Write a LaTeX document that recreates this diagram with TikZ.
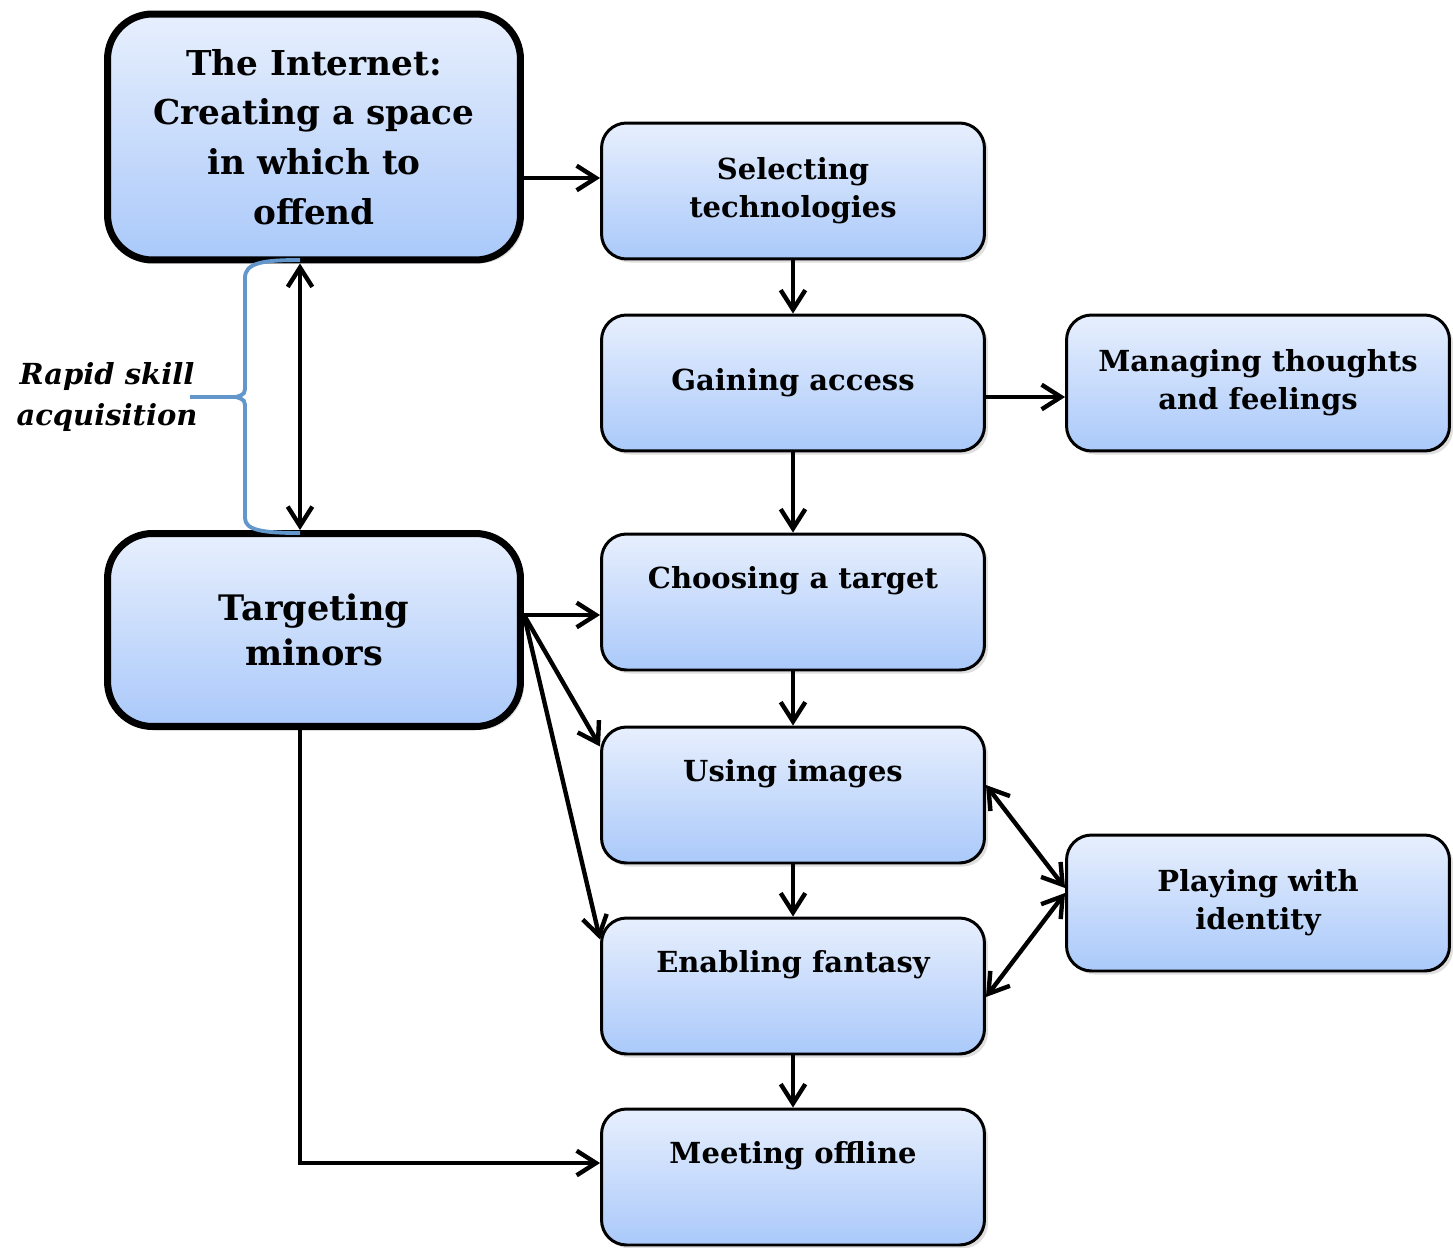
\documentclass[tikz,border=0pt]{standalone}
\usepackage{fontspec}
\setmainfont{DejaVu Serif}
\usetikzlibrary{arrows.meta,shadows,positioning}

\definecolor{boxtop}{RGB}{231,239,253}
\definecolor{boxbot}{RGB}{170,201,250}
\definecolor{bracecol}{RGB}{99,150,203}

\tikzset{
  stage/.style={rectangle, rounded corners=0.5cm, draw=black, line width=1.7pt,
    top color=boxtop, bottom color=boxbot, align=center,
    minimum width=7.66cm, minimum height=2.72cm, inner sep=2pt,
    font=\fontsize{16.5}{21.5}\selectfont\bfseries,
    drop shadow={opacity=0.25, shadow xshift=2pt, shadow yshift=-2pt}},
  phase/.style={stage, rounded corners=0.9cm, line width=4pt, minimum width=8.26cm},
  arr/.style={line width=2.5pt, -{Straight Barb[length=11pt, width=14pt]}},
  biarr/.style={line width=2.5pt, {Straight Barb[length=11pt, width=14pt]}-{Straight Barb[length=11pt, width=14pt]}},
}

\begin{document}
\begin{tikzpicture}[x=0.02cm, y=-0.02cm]
\useasboundingbox (0,0) rectangle (1453,1247);

% left column
\node[phase, minimum height=4.92cm, font=\fontsize{19.5}{28.3}\selectfont\bfseries] at (314, 137) (internet) {
The Internet:\\ Creating a space\\ in which to\\ offend
};

\node[phase, minimum height=3.86cm, font=\fontsize{20}{25.5}\selectfont\bfseries] at (314, 630) (target) {
Targeting\\ minors
};

\node[align=center, font=\fontsize{16.5}{23.8}\selectfont\bfseries\itshape] at (107, 397) (rapid) {
Rapid skill\\ acquisition
};

% middle column
\node[stage] at (793, 191) (select) {Selecting\\ technologies};
\node[stage] at (793, 383) (gain) {Gaining access};
\node[stage] at (793, 602) (choose) {Choosing a target\\ \strut};
\node[stage] at (793, 795) (images) {Using images\\ \strut};
\node[stage] at (793, 986) (fantasy) {Enabling fantasy\\ \strut};
\node[stage] at (793, 1177) (meet) {Meeting offline\\ \strut};

% right column
\node[stage] at (1258, 383) (manage) {Managing thoughts\\ and feelings};
\node[stage] at (1258, 903) (identity) {Playing with\\ identity};

% brace
\draw[bracecol, line width=2.2pt] (300,260) .. controls (262,260) and (245,263) .. (245,278)
  -- (245,384) .. controls (245,394) .. (236,397) -- (190,397)
  (236,397) .. controls (245,400) .. (245,410)
  -- (245,518) .. controls (245,530) and (262,533) .. (300,533);

% connectors
\coordinate (fan) at ([yshift=0.3cm]target.east);

\draw[arr] ([yshift=0.26cm]select.west -| internet.east) -- ([yshift=0.26cm]select.west);
\draw[biarr] ([xshift=-0.28cm]internet.south) -- ([xshift=-0.28cm]target.north);

\draw[arr] (select.south) -- (gain.north);
\draw[arr] ([yshift=-0.28cm]gain.east) -- ([yshift=-0.28cm]manage.west);
\draw[arr] (gain.south) -- (choose.north);
\draw[arr] (choose.south) -- (images.north);
\draw[arr] (images.south) -- (fantasy.north);
\draw[arr] (fantasy.south) -- (meet.north);

\draw[arr] (fan) -- (fan -| choose.west);
\draw[arr] (fan) -- ([yshift=-0.42cm]images.north west);
\draw[arr] (fan) -- ([yshift=-0.46cm]fantasy.north west);
\draw[arr] ([xshift=-0.28cm]target.south) |- ([yshift=0.28cm]meet.west);

\draw[biarr] ([yshift=0.2cm]images.east) -- ([yshift=0.3cm]identity.west);
\draw[biarr] ([yshift=-0.22cm]fantasy.east) -- ([yshift=0.2cm]identity.west);

\end{tikzpicture}
\end{document}
